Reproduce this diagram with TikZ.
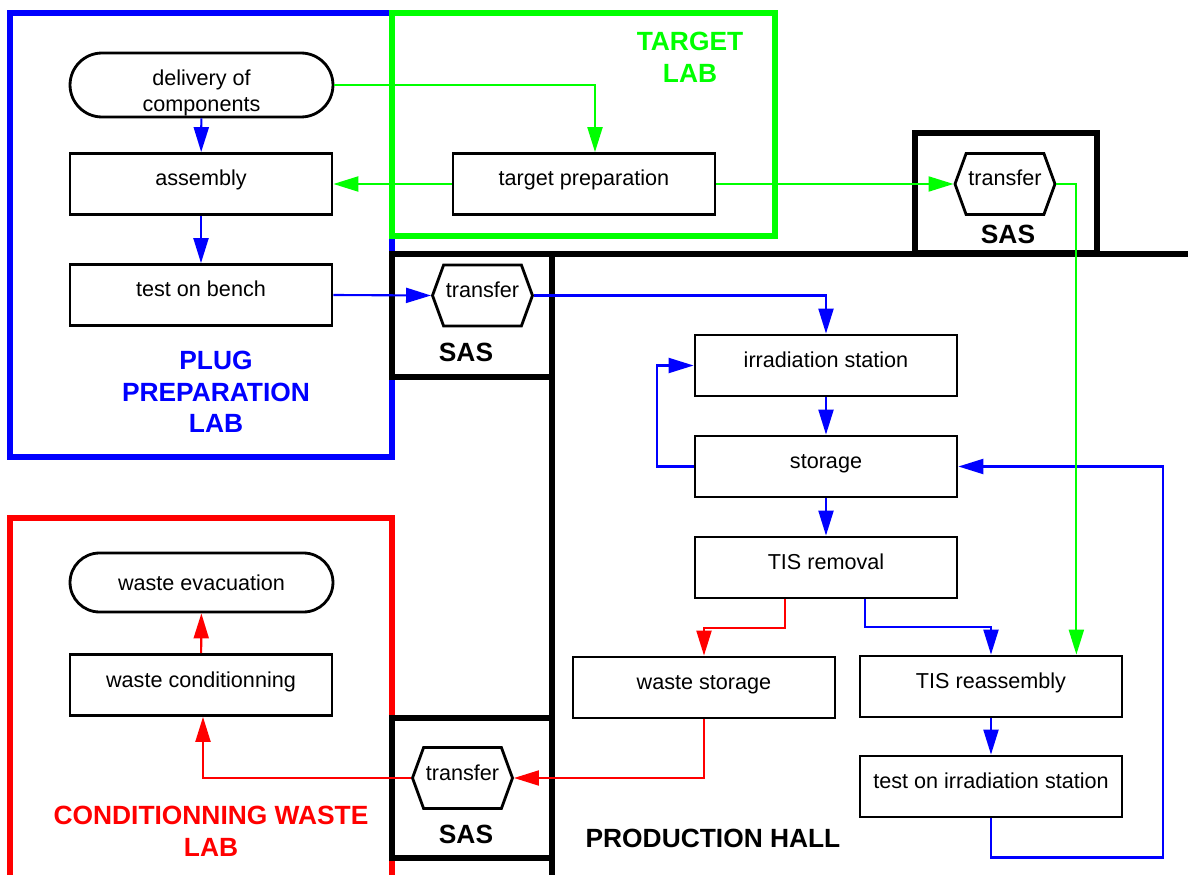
\documentclass[tikz,border=0pt]{standalone}
\usepackage{fontspec}
\setmainfont{Liberation Sans}
\usetikzlibrary{arrows.meta,shapes.misc,shapes.symbols,calc}
\pgfdeclarelayer{background}
\pgfsetlayers{background,main}
\definecolor{plugblue}{RGB}{0,0,255}
\definecolor{labgreen}{RGB}{0,255,0}
\definecolor{wastered}{RGB}{255,0,0}
\tikzstyle{box}=[draw,line width=1.6pt,fill=white,minimum width=5.24cm,minimum height=1.22cm,inner sep=0pt,text height=0.32cm,text depth=0.24cm,font=\fontsize{12.3}{15.3}\selectfont]
\tikzstyle{term}=[draw,line width=1.6pt,fill=white,rounded rectangle,minimum width=5.26cm,minimum height=1.22cm,inner sep=0pt,align=center,font=\fontsize{12.3}{15.3}\selectfont]
\tikzstyle{hexa}=[box,signal,signal to=east and west,signal pointer angle=140,minimum width=2cm]
\tikzstyle{flow}=[line width=1.2pt,-{Triangle[length=0.5cm,width=0.3cm]}]
\tikzstyle{frame}=[line width=3.2pt]
\tikzstyle{title}=[align=center,font=\fontsize{15}{18}\selectfont\bfseries]

\begin{document}
\begin{tikzpicture}[x=0.02cm,y=-0.02cm]
    \useasboundingbox (0,0) rectangle (1188,875);
    % The start and end of the chain
    \node[term,minimum height=1.28cm] (deliv) at (201.5,85) {\rule{0pt}{0.63cm}delivery of\\components};
    \node[term,minimum height=1.18cm] (wevac) at (201.5,582.5) {waste evacuation};

    % Then the work stations
    \foreach \pos/\name/\txt in {{(201,184)/assembly/assembly}, {(201,295)/bench/test on bench}, {(584,184)/tprep/target preparation}, {(826,365.5)/irr/irradiation station}, {(826,466.5)/storage/storage}, {(826,567.5)/tisrem/TIS removal}, {(704,687.5)/wstore/waste storage}, {(991,686.5)/reasm/TIS reassembly}, {(991,786.5)/testirr/test on irradiation station}, {(201,685)/wcond/waste conditionning}}
        \node[box] (\name) at \pos {\txt};

    % The transfers through the SAS
    \foreach \pos/\name in {{(482.5,295.5)/tr1}, {(1005,184)/tr2}, {(462.5,778)/tr3}}
        \node[hexa] (\name) at \pos {transfer};

    % Labels of the rooms
    \node[title,text=labgreen] (tlab) at (690,57) {TARGET\\LAB};
    \node[title,text=plugblue] (plab) at (216,392) {PLUG\\PREPARATION\\LAB};
    \node[title,text=wastered] (clab) at (211,831) {CONDITIONNING WASTE\\LAB};
    \node[title] (hall) at (713,838) {PRODUCTION HALL};
    \foreach \pos/\name in {{(466,352)/sas1}, {(1008,234)/sas2}, {(466,834)/sas3}}
        \node[title] (\name) at \pos {SAS};

    % Flow of the plug
    \foreach \source/\dest in {deliv/assembly, assembly/bench, irr/storage, storage/tisrem, reasm/testirr}
        \draw[flow,plugblue] (\source) -- (\dest);
    \draw[flow,plugblue] (bench.east) -- (tr1.west);
    \draw[flow,plugblue] (tr1.east) -| (irr.north);
    \draw[flow,plugblue] (storage.west) -- ++(-37,0) |- (irr.west);
    \draw[flow,plugblue] ($(tisrem.south)+(39,0)$) -- ++(0,28) -| (reasm.north);
    \draw[flow,plugblue] (testirr.south) |- ($(storage.east)+(205,391)$) |- (storage.east);

    % Flow of the target
    \draw[flow,labgreen] (deliv.east) -| ($(tprep.north)+(11,0)$);
    \draw[flow,labgreen] (tprep.west) -- (assembly.east);
    \draw[flow,labgreen] (tprep.east) -- (tr2.west);
    \draw[flow,labgreen] (tr2.east) -| ($(reasm.north east)+(-47,0)$);

    % Flow of the waste
    \draw[flow,wastered] ($(tisrem.south)+(-41,0)$) -- ++(0,29) -| (wstore.north);
    \draw[flow,wastered] (wstore.south) |- (tr3.east);
    \draw[flow,wastered] (tr3.west) -| ($(wcond.south)+(2,0)$);
    \draw[flow,wastered] (wcond) -- (wevac);

    % The rooms
    \begin{pgfonlayer}{background}
        \draw[frame,plugblue] (10,13) rectangle (392,457);
        \draw[frame,labgreen] (392,13) rectangle (775,236);
        \draw[frame,wastered] (10,880) |- (392,518) -- (392,880);
        \draw[frame] (552,880) |- (1192,254);
        \draw[frame] (392,254) rectangle (552,377);
        \draw[frame] (915,133) rectangle (1097,253);
        \draw[frame] (392,718) rectangle (552,858);
    \end{pgfonlayer}
\end{tikzpicture}
\end{document}
